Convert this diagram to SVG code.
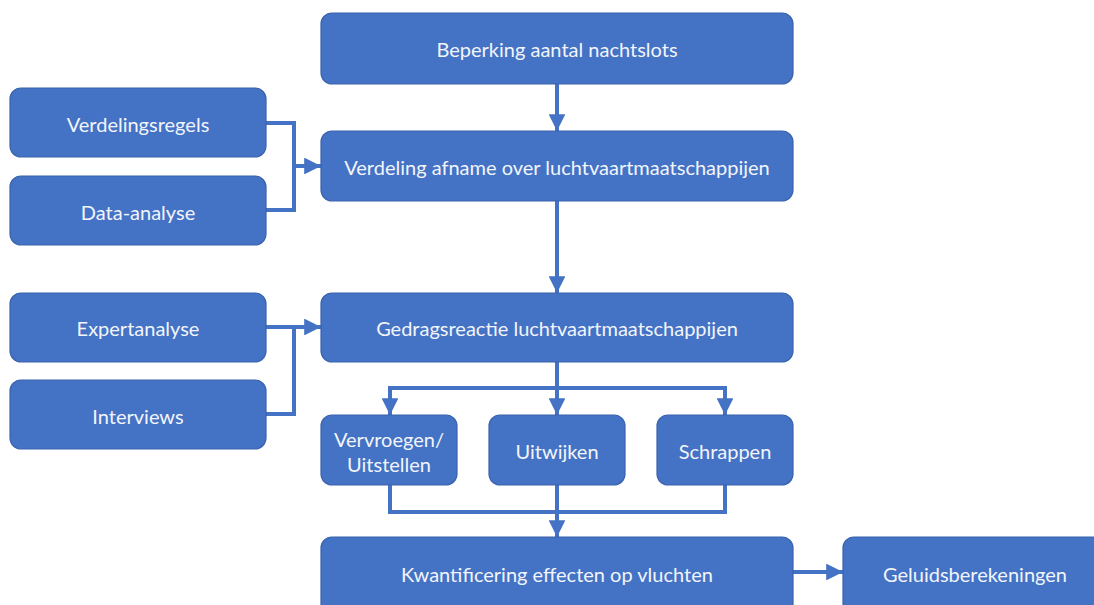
<svg xmlns="http://www.w3.org/2000/svg" width="1094" height="605" viewBox="0 0 1094 605">
<style>
.box{fill:#4472C4;stroke:#3A63AE;stroke-width:1.2}
.t{fill:#F2F5FB;font-family:Lato,"Open Sans",sans-serif;font-size:20px;text-anchor:middle;dominant-baseline:central}
.c{fill:none;stroke:#4472C4;stroke-width:4}
</style>
<defs>
<marker id="ah" viewBox="0 0 10 10" refX="10" refY="5" markerWidth="4.2" markerHeight="4.2" markerUnits="strokeWidth" orient="auto">
<path d="M0,0 L10,5 L0,10 Z" fill="#4472C4"/>
</marker>
</defs>
<rect width="1094" height="605" fill="#FFFFFF"/>
<g id="connectors">
<path class="c" d="M557,84 V131" marker-end="url(#ah)"/>
<path class="c" d="M266,123 H294 V210 H266"/>
<path class="c" d="M294,166 H321" marker-end="url(#ah)"/>
<path class="c" d="M557,201 V293" marker-end="url(#ah)"/>
<path class="c" d="M266,327 H321" marker-end="url(#ah)"/>
<path class="c" d="M294,327 V414 H266"/>
<path class="c" d="M557,362 V415" marker-end="url(#ah)"/>
<path class="c" d="M390,415 V388 H725 V415"/>
<path class="c" d="M390,388 V415" marker-end="url(#ah)"/>
<path class="c" d="M725,388 V415" marker-end="url(#ah)"/>
<path class="c" d="M390,485 V512 H725 V485"/>
<path class="c" d="M557,485 V537" marker-end="url(#ah)"/>
<path class="c" d="M793,572 H843" marker-end="url(#ah)"/>
</g>
<g id="n1"><rect class="box" x="321" y="13" width="472" height="71" rx="11"/><text class="t" x="557" y="49">Beperking aantal nachtslots</text></g>
<g id="n2"><rect class="box" x="321" y="131" width="472" height="70" rx="11"/><text class="t" x="557" y="167">Verdeling afname over luchtvaartmaatschappijen</text></g>
<g id="n3"><rect class="box" x="10" y="88" width="256" height="69" rx="11"/><text class="t" x="138" y="124">Verdelingsregels</text></g>
<g id="n4"><rect class="box" x="10" y="176" width="256" height="69" rx="11"/><text class="t" x="138" y="212">Data-analyse</text></g>
<g id="n5"><rect class="box" x="321" y="293" width="472" height="69" rx="11"/><text class="t" x="557" y="328">Gedragsreactie luchtvaartmaatschappijen</text></g>
<g id="n6"><rect class="box" x="10" y="293" width="256" height="69" rx="11"/><text class="t" x="138" y="328">Expertanalyse</text></g>
<g id="n7"><rect class="box" x="10" y="380" width="256" height="69" rx="11"/><text class="t" x="138" y="416">Interviews</text></g>
<g id="n8"><rect class="box" x="321" y="415" width="136" height="70" rx="11"/><text class="t" x="389" y="439">Vervroegen/</text><text class="t" x="389" y="464">Uitstellen</text></g>
<g id="n9"><rect class="box" x="489" y="415" width="136" height="70" rx="11"/><text class="t" x="557" y="451">Uitwijken</text></g>
<g id="n10"><rect class="box" x="657" y="415" width="136" height="70" rx="11"/><text class="t" x="725" y="451">Schrappen</text></g>
<g id="n11"><rect class="box" x="321" y="537" width="472" height="80" rx="11"/><text class="t" x="557" y="574">Kwantificering effecten op vluchten</text></g>
<g id="n12"><rect class="box" x="843" y="537" width="262" height="80" rx="11"/><text class="t" x="975" y="574">Geluidsberekeningen</text></g>
</svg>
